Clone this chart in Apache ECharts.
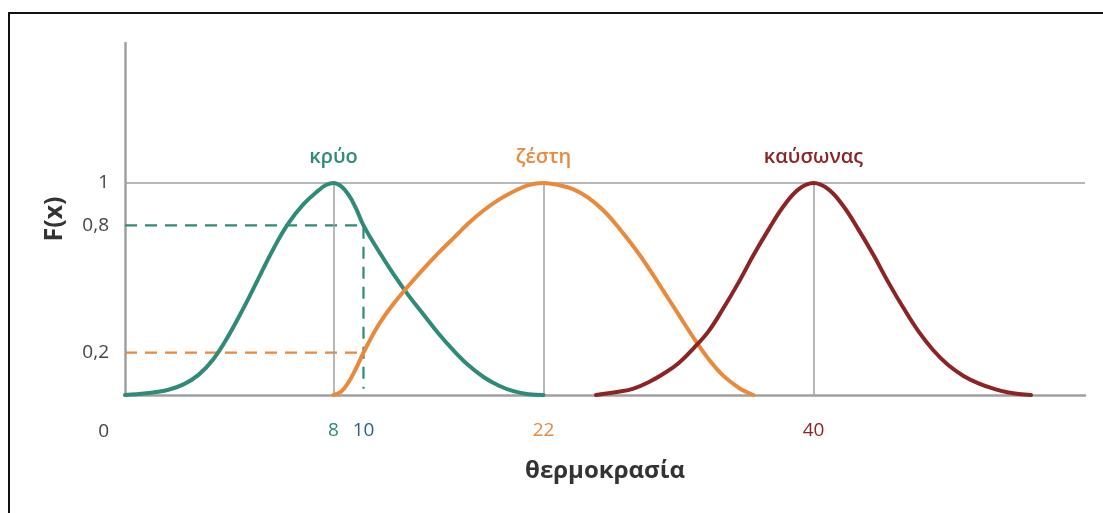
<!DOCTYPE html>
<html>
<head>
<meta charset="utf-8">
<script src="https://cdn.jsdelivr.net/npm/echarts@6/dist/echarts.min.js"></script>
<style>
  html, body { margin: 0; padding: 0; background: #fff; }
  #chart { width: 1103px; height: 513px; }
</style>
</head>
<body>
<div id="chart"></div>
<script>
// Membership functions F(x) of three temperature sets
const setNames = ['κρύο', 'ζέστη', 'καύσωνας'];
const setPeaks = [8, 22, 40];

const coldX = [-5.9, -4.5, -3, -2, -1, 0, 1, 2, 3, 4, 5, 6, 7, 7.5, 8, 8.5, 9, 9.5, 10, 11, 12, 13, 14, 15, 16, 17, 18, 19, 20, 21, 22];
const coldY = [0, 0.008, 0.025, 0.05, 0.095, 0.17, 0.28, 0.41, 0.55, 0.69, 0.81, 0.9, 0.965, 0.99, 1, 0.985, 0.945, 0.88, 0.8, 0.68, 0.57, 0.47, 0.38, 0.29, 0.21, 0.14, 0.085, 0.045, 0.018, 0.004, 0];

const warmX = [8, 8.5, 9, 9.5, 10, 11, 12, 13, 14, 15, 16, 17, 18, 19, 20, 21, 22, 23, 24, 25, 26, 27, 28, 29, 30, 31, 32, 33, 34, 35, 35.5, 36];
const warmY = [0, 0.015, 0.06, 0.125, 0.2, 0.33, 0.43, 0.515, 0.595, 0.67, 0.74, 0.81, 0.87, 0.92, 0.96, 0.99, 1, 0.99, 0.97, 0.93, 0.87, 0.79, 0.7, 0.6, 0.49, 0.38, 0.27, 0.17, 0.09, 0.035, 0.015, 0];

const heatX = [25.5, 27, 28, 29, 30, 31, 32, 33, 34, 35, 36, 37, 38, 39, 40, 41, 42, 43, 44, 45, 46, 47, 48, 49, 50, 51, 52, 53, 54.5];
const heatY = [0, 0.015, 0.03, 0.06, 0.1, 0.15, 0.22, 0.3, 0.41, 0.53, 0.66, 0.78, 0.89, 0.97, 1, 0.97, 0.89, 0.78, 0.66, 0.53, 0.41, 0.3, 0.21, 0.14, 0.09, 0.055, 0.03, 0.012, 0];

// Reading at temperature 10: F_cold = 0.8, F_warm = 0.2
const readX = 10;
const readCold = 0.8;
const readWarm = 0.2;

const xTicks = [8, 10, 22, 40];
const yTicks = [0, 0.2, 0.8, 1];

const colors = ['#2f8a77', '#e8893b', '#8c2424'];
const tickColors = { 8: '#2f8a77', 10: '#2c5f84', 22: '#e8893b', 40: '#8c2424' };
const grey = '#a0a0a0';
const font = "'Open Sans', 'Noto Sans', sans-serif";

const curves = [[coldX, coldY], [warmX, warmY], [heatX, heatY]];
const xMin = -5.9, xMax = 58.1;

function curveSeries(i) {
  const [xs, ys] = curves[i];
  const peakIdx = xs.indexOf(setPeaks[i]);
  return {
    type: 'line', name: setNames[i],
    data: xs.map((x, k) => [x, ys[k]]),
    smooth: 0.4,
    showSymbol: false, symbol: 'none', z: 5,
    lineStyle: { color: colors[i], width: 4, cap: 'round' },
    itemStyle: { color: colors[i] },
    markPoint: {
      silent: true, symbol: 'circle', symbolSize: 0,
      data: [{ coord: [xs[peakIdx], ys[peakIdx]] }],
      label: {
        show: true, position: 'top', distance: 16,
        formatter: setNames[i], color: colors[i],
        fontFamily: font, fontSize: 20, fontWeight: 600
      }
    }
  };
}

const refLines = {
  type: 'line', data: [], silent: true, z: 1,
  markLine: {
    silent: true, symbol: 'none',
    label: { show: false },
    lineStyle: { color: grey, width: 1.5, type: 'solid' },
    data: [{ yAxis: 1 }].concat(setPeaks.map(p => [
      { coord: [p, 0] }, { coord: [p, 1] }
    ]))
  }
};

const dashCold = {
  type: 'line', data: [[xMin, readCold], [readX, readCold], [readX, 0.03]],
  showSymbol: false, symbol: 'none', silent: true, z: 3,
  lineStyle: { color: colors[0], width: 2.2, type: [12, 8] }
};
const dashWarm = {
  type: 'line', data: [[xMin, readWarm], [readX, readWarm]],
  showSymbol: false, symbol: 'none', silent: true, z: 3,
  lineStyle: { color: colors[1], width: 2.2, type: [12, 8] }
};

const chart = echarts.init(document.getElementById('chart'), null, { renderer: 'canvas' });
chart.setOption({
  animation: false,
  backgroundColor: '#fff',
  graphic: [{
    type: 'rect', silent: true,
    shape: { x: 9, y: 13, width: 1200, height: 600 },
    style: { fill: 'none', stroke: '#111', lineWidth: 2 }
  }],
  grid: { left: 125, right: 18, top: 43, bottom: 118 },
  xAxis: {
    type: 'value', min: xMin, max: xMax,
    name: 'θερμοκρασία', nameLocation: 'middle', nameGap: 64,
    nameTextStyle: { fontFamily: font, fontSize: 24, fontWeight: 'bold', color: '#333' },
    axisLine: { show: true, onZero: false, lineStyle: { color: grey, width: 2.5 } },
    axisTick: { show: false },
    splitLine: { show: false },
    axisLabel: {
      customValues: xTicks, margin: 26,
      fontFamily: font, fontSize: 19,
      formatter: v => '{t' + v + '|' + v + '}',
      rich: Object.fromEntries(xTicks.map(t => ['t' + t, { color: tickColors[t], fontFamily: font, fontSize: 19 }]))
    }
  },
  yAxis: {
    type: 'value', min: 0, max: 1.66,
    name: 'F(x)', nameLocation: 'middle', nameGap: 58, nameRotate: 90,
    nameTextStyle: { fontFamily: font, fontSize: 25, fontWeight: 'bold', color: '#333' },
    axisLine: { show: true, onZero: false, lineStyle: { color: grey, width: 2.5 } },
    axisTick: { show: false },
    splitLine: { show: false },
    axisLabel: {
      customValues: yTicks, margin: 16,
      color: '#444', fontFamily: font, fontSize: 19,
      formatter: v => v === 0 ? '{o|0}' : String(v).replace('.', ','),
      rich: { o: { color: '#444', fontFamily: font, fontSize: 19, padding: [74, 0, 0, 0] } }
    }
  },
  series: [refLines, dashCold, dashWarm, curveSeries(0), curveSeries(1), curveSeries(2)]
});
</script>
</body>
</html>
